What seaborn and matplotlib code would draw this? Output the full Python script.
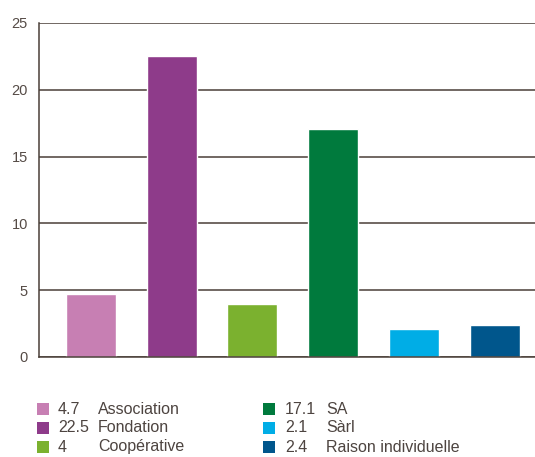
import matplotlib
matplotlib.use("Agg")
import matplotlib.pyplot as plt
import seaborn as sns
import pandas as pd
from matplotlib.patches import Rectangle

categories = ["Association", "Fondation", "Coopérative", "SA", "Sàrl", "Raison individuelle"]
values = [4.7, 22.5, 4.0, 17.1, 2.1, 2.4]
value_labels = ["4.7", "22.5", "4", "17.1", "2.1", "2.4"]
colors = ["#c77fb3", "#8e3b8a", "#7bb12f", "#007a3d", "#00ade6", "#00568c"]
yticks = [0, 5, 10, 15, 20, 25]

sns.set_theme(style="white")
plt.rcParams['font.family'] = ['Liberation Sans', 'DejaVu Sans']

df = pd.DataFrame({"cat": categories, "val": values})

fig = plt.figure(figsize=(5.35, 4.57), dpi=100)
ax = fig.add_axes([39/535, 1-357/457, 1-39/535, (357-23)/457])

sns.barplot(data=df, x="cat", y="val", hue="cat", palette=colors, order=categories,
            hue_order=categories, width=0.62, legend=False, ax=ax, saturation=1)

grid_c = "#4a3f38"
ax.set_ylim(0, 25)
ax.set_xlim(-0.644, 5.50)
ax.set_yticks(yticks)
ax.set_yticklabels([str(t) for t in yticks])
ax.set_xticks([])
ax.set_xlabel("")
ax.set_ylabel("")
ax.yaxis.grid(True, color=grid_c, linewidth=1.1)
ax.set_axisbelow(True)
ax.tick_params(axis="y", length=0, pad=8, labelsize=10.5, labelcolor="#554b46")
for s in ["top", "right"]:
    ax.spines[s].set_visible(False)
ax.spines["left"].set_color(grid_c)
ax.spines["bottom"].set_color(grid_c)
ax.spines["left"].set_linewidth(1.1)
ax.spines["bottom"].set_linewidth(1.1)

# legend
rows_y = [409, 428, 447]
cols = [(37, 58, 98), (263, 285, 326)]
txt_c = "#4d4440"
for i, (cat, vl, c) in enumerate(zip(categories, value_labels, colors)):
    col = cols[i // 3]
    yc = rows_y[i % 3]
    fig.patches.append(Rectangle((col[0]/535, 1-(yc+6)/457), 12/535, 12/457,
                                 transform=fig.transFigure, facecolor=c, edgecolor="none"))
    fig.text(col[1]/535, 1-yc/457, vl, ha="left", va="center", fontsize=11.5, color=txt_c)
    fig.text(col[2]/535, 1-yc/457, cat, ha="left", va="center", fontsize=11.5, color=txt_c)

fig.savefig("out.png", dpi=100)
